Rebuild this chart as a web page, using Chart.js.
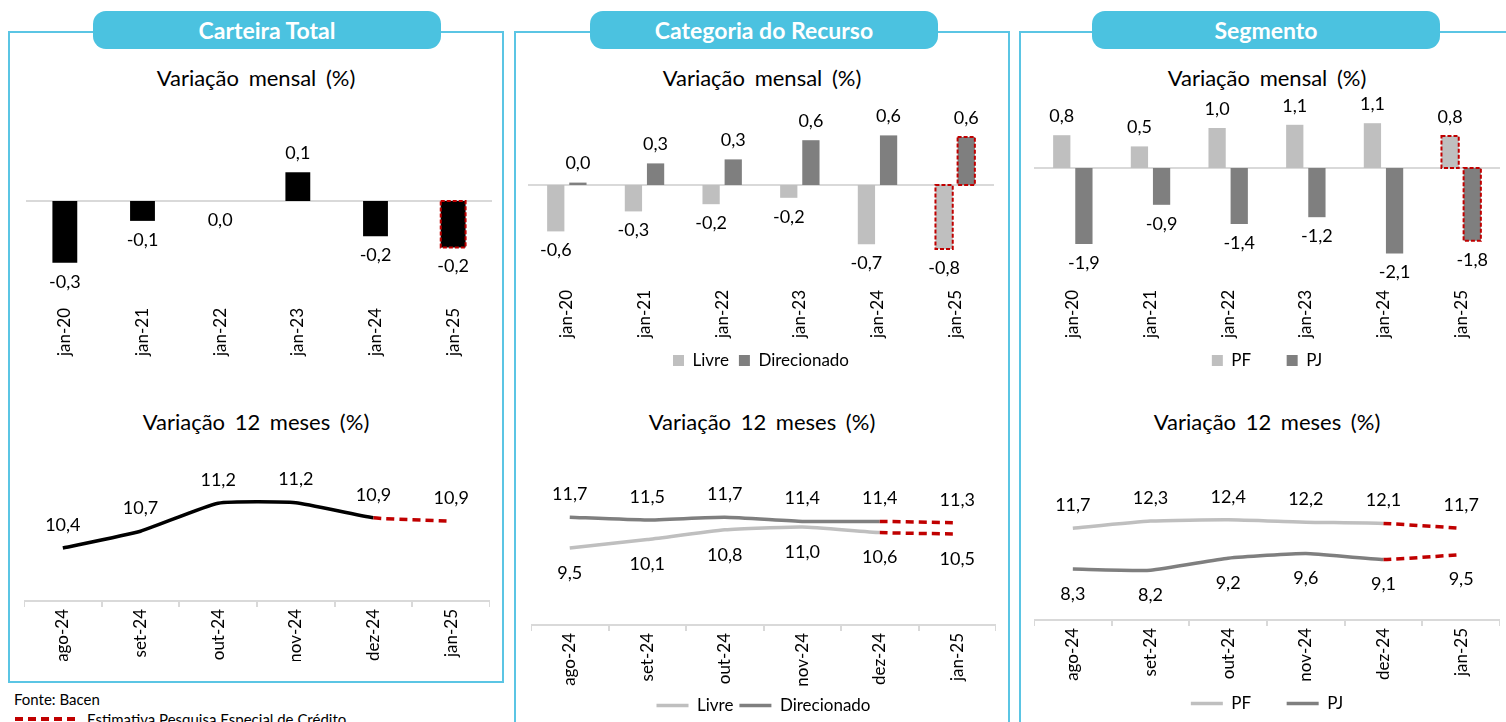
<!DOCTYPE html>
<html>
<head>
<meta charset="utf-8">
<script src="https://cdn.jsdelivr.net/npm/chart.js@4.4.1/dist/chart.umd.min.js"></script>
<style>
body{margin:0;width:1506px;height:722px;overflow:hidden;background:#fff;position:relative;font-family:Lato,sans-serif;color:#000}
.frame{position:absolute;border:2px solid #5BC5E4;box-sizing:border-box}
.tab{position:absolute;top:11px;height:38px;width:348px;background:#4BC2E0;border-radius:13px;color:#fff;font-weight:bold;font-size:23px;line-height:38px;text-align:center}
.title{position:absolute;width:494px;text-align:center;font-size:22px;line-height:26px;word-spacing:4px}
canvas{position:absolute}
</style>
</head>
<body>

<div class="frame" style="left:8px;top:31px;width:496px;height:652px"></div>
<div class="frame" style="left:514px;top:31px;width:496px;height:800px"></div>
<div class="frame" style="left:1019px;top:31px;width:600px;height:800px"></div>

<div class="tab" style="left:93px">Carteira Total</div>
<div class="tab" style="left:590px">Categoria do Recurso</div>
<div class="tab" style="left:1092px">Segmento</div>

<div class="title" style="left:9px;top:65px">Variação mensal (%)</div>
<div class="title" style="left:515px;top:65px">Variação mensal (%)</div>
<div class="title" style="left:1020px;top:65px">Variação mensal (%)</div>
<div class="title" style="left:9px;top:409px">Variação 12 meses (%)</div>
<div class="title" style="left:515px;top:409px">Variação 12 meses (%)</div>
<div class="title" style="left:1020px;top:409px">Variação 12 meses (%)</div>

<canvas id="totalMes" width="466" height="270" style="left:26px;top:90px"></canvas>
<canvas id="total12" width="466" height="251" style="left:24px;top:410px"></canvas>
<canvas id="recMes" width="466" height="289" style="left:528px;top:90px"></canvas>
<canvas id="rec12" width="465" height="304" style="left:531px;top:420px"></canvas>
<canvas id="segMes" width="466" height="299" style="left:1034px;top:80px"></canvas>
<canvas id="seg12" width="466" height="302" style="left:1034px;top:420px"></canvas>

<div style="position:absolute;left:14px;top:690px;font-size:15px">Fonte: Bacen</div>
<div style="position:absolute;left:15px;top:717px;width:60px;border-top:4px dashed #C00000"></div>
<div style="position:absolute;left:87px;top:710px;font-size:15px">Estimativa Pesquisa Especial de Crédito</div>

<script>
// categorias
var mesesJan = ['jan-20', 'jan-21', 'jan-22', 'jan-23', 'jan-24', 'jan-25'];
var meses12 = ['ago-24', 'set-24', 'out-24', 'nov-24', 'dez-24', 'jan-25'];

// carteira total
var totalMensal = [-0.28, -0.09, 0.0, 0.13, -0.16, -0.21];
var total12m = [10.4, 10.7, 11.2, 11.21, 10.94, 10.88];

// categoria do recurso
var livreMensal = [-0.58, -0.33, -0.24, -0.16, -0.74, -0.8];
var direcMensal = [0.03, 0.27, 0.32, 0.56, 0.62, 0.6];
var livre12m = [9.5, 10.1, 10.8, 11.0, 10.6, 10.5];
var direc12m = [11.7, 11.5, 11.7, 11.4, 11.4, 11.3];

// segmento
var pfMensal = [0.82, 0.54, 1.0, 1.08, 1.12, 0.8];
var pjMensal = [-1.9, -0.92, -1.4, -1.23, -2.14, -1.82];
var pf12m = [11.7, 12.3, 12.4, 12.2, 12.1, 11.7];
var pj12m = [8.3, 8.2, 9.2, 9.6, 9.1, 9.5];

var LIGHT = '#BFBFBF';
var DARK = '#7F7F7F';
var RED = '#C00000';

Chart.defaults.font.family = 'Lato';
Chart.defaults.color = '#000';

function fmt(v){
    var s = v.toFixed(1).replace('.', ',');
    if (s == '-0,0') s = '0,0';
    return s;
}

// rotulos de valor, linha do zero e caixa tracejada da estimativa
var valueLabels = {
    id: 'valueLabels',
    beforeDatasetsDraw(chart){
        if (chart.config.type != 'bar') return;
        var ctx = chart.ctx;
        var a = chart.chartArea;
        var y0 = chart.scales.y.getPixelForValue(0);
        ctx.save();
        ctx.strokeStyle = '#D9D9D9';
        ctx.lineWidth = 2;
        ctx.beginPath();
        ctx.moveTo(a.left, y0);
        ctx.lineTo(a.right, y0);
        ctx.stroke();
        ctx.restore();
    },
    afterDatasetsDraw(chart, args, opts){
        var ctx = chart.ctx;
        var below = opts.below || [];
        ctx.save();
        ctx.font = '18px Lato';
        ctx.fillStyle = '#000';
        ctx.textAlign = 'center';
        ctx.textBaseline = 'middle';
        chart.data.datasets.forEach(function(ds, i){
            var meta = chart.getDatasetMeta(i);
            meta.data.forEach(function(el, j){
                var v = ds.data[j];
                var y;
                if (chart.config.type == 'bar') {
                    y = v > 0 ? el.y - 19 : el.y + 19;
                } else {
                    y = below[i] ? el.y + 25 : el.y - 23;
                }
                ctx.fillText(fmt(v), el.x, y);
            });
            if (chart.config.type == 'bar') {
                var last = meta.data[meta.data.length - 1];
                var top = Math.min(last.y, last.base);
                var h = Math.abs(last.base - last.y);
                ctx.strokeStyle = RED;
                ctx.lineWidth = 2;
                ctx.setLineDash([4, 2]);
                ctx.strokeRect(last.x - last.width / 2, top, last.width, h);
                ctx.setLineDash([]);
            }
        });
        ctx.restore();
    }
};

// legenda do Segmento fica mais espacada
function wideLabels(chart){
    var items = Chart.defaults.plugins.legend.labels.generateLabels(chart);
    items[0].text = items[0].text + '\u2003\u2003';
    return items;
}

function makeBar(id, sets, yMin, yMax, axisH, tickPad, catPct, barPct, legend, wide){
    var labelOpts = {boxWidth: 11, boxHeight: 11, padding: 10, font: {size: 17}};
    if (wide) labelOpts.generateLabels = wideLabels;
    return new Chart(document.getElementById(id), {
        type: 'bar',
        data: {labels: mesesJan, datasets: sets},
        options: {
            responsive: false,
            animation: false,
            devicePixelRatio: 1,
            layout: {padding: {top: 30}},
            categoryPercentage: catPct,
            barPercentage: barPct,
            scales: {
                x: {
                    grid: {display: false, drawTicks: false},
                    border: {display: false},
                    ticks: {minRotation: 90, maxRotation: 90, padding: tickPad, font: {size: 17}},
                    afterFit: function(s){ s.height = axisH; }
                },
                y: {display: false, min: yMin, max: yMax}
            },
            plugins: {
                legend: legend ? {position: 'bottom', labels: labelOpts} : {display: false},
                tooltip: {enabled: false}
            }
        },
        plugins: [valueLabels]
    });
}

function estimate(){
    return {
        borderColor: function(c){ return c.p1DataIndex == 5 ? RED : undefined; },
        borderDash: function(c){ return c.p1DataIndex == 5 ? [8, 5] : undefined; }
    };
}

function lineSet(label, data, color){
    return {
        label: label,
        data: data,
        borderColor: color,
        backgroundColor: color,
        borderWidth: 3.5,
        pointRadius: 0,
        tension: 0.15,
        segment: estimate()
    };
}

function makeLine(id, sets, yMin, yMax, axisH, below, legendPad, wide){
    var labelOpts = {usePointStyle: true, pointStyle: 'line', pointStyleWidth: 32, padding: legendPad, font: {size: 17}};
    if (wide) labelOpts.generateLabels = wideLabels;
    return new Chart(document.getElementById(id), {
        type: 'line',
        data: {labels: meses12, datasets: sets},
        options: {
            responsive: false,
            animation: false,
            devicePixelRatio: 1,
            layout: {padding: {top: 30}},
            scales: {
                x: {
                    offset: true,
                    grid: {offset: true, drawOnChartArea: false, drawTicks: true, tickLength: 6, color: '#D9D9D9', lineWidth: 2},
                    border: {display: true, color: '#D9D9D9', width: 2},
                    ticks: {minRotation: 90, maxRotation: 90, padding: 2, font: {size: 17}},
                    afterFit: function(s){ s.height = axisH; }
                },
                y: {display: false, min: yMin, max: yMax}
            },
            plugins: {
                legend: legendPad ? {position: 'bottom', labels: labelOpts} : {display: false},
                tooltip: {enabled: false},
                valueLabels: {below: below}
            }
        },
        plugins: [valueLabels]
    });
}

makeBar('totalMes', [
    {label: 'Carteira Total', data: totalMensal, backgroundColor: '#000'}
], -0.448, 0.3665, 60, 8, 0.4, 0.8, false, false);

makeBar('recMes', [
    {label: 'Livre', data: livreMensal, backgroundColor: LIGHT},
    {label: 'Direcionado', data: direcMensal, backgroundColor: DARK}
], -1.2375, 0.8125, 58, 6, 0.57, 0.78, true, false);

makeBar('segMes', [
    {label: 'PF', data: pfMensal, backgroundColor: LIGHT},
    {label: 'PJ', data: pjMensal, backgroundColor: DARK}
], -2.875, 1.45, 59, 7, 0.57, 0.78, true, true);

makeLine('total12', [
    lineSet('Carteira Total', total12m, '#000')
], 9.454, 12.329, 60, [], 0, false);

makeLine('rec12', [
    lineSet('Livre', livre12m, LIGHT),
    lineSet('Direcionado', direc12m, DARK)
], 4.0, 16.5, 66, [true, false], 6, false);

makeLine('seg12', [
    lineSet('PF', pf12m, LIGHT),
    lineSet('PJ', pj12m, DARK)
], 4.05, 18.217, 65, [false, true], 10, true);
</script>
</body>
</html>
